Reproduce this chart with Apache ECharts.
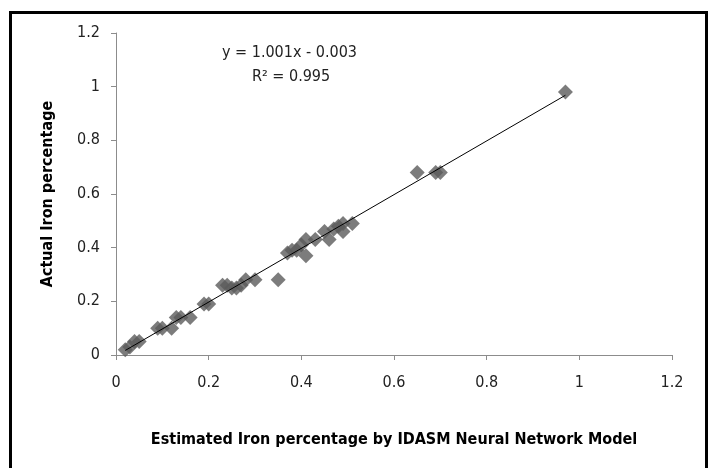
<!DOCTYPE html>
<html>
<head>
    <meta charset="utf-8">
    <script src="https://cdn.jsdelivr.net/npm/echarts@6/dist/echarts.min.js"></script>
    <style>
        body { margin: 0; background: #fff; }
        #frame {
            position: absolute;
            left: 9px;
            top: 11px;
            width: 693px;
            height: 470px;
            border: 3px solid #000;
        }
        #chart {
            position: absolute;
            left: 0;
            top: 0;
            width: 711px;
            height: 468px;
        }
    </style>
</head>
<body>
<div id="frame"></div>
<div id="chart"></div>
<script>
    // estimated (x) vs actual (y) iron percentage
    const estimated = [0.02, 0.03, 0.04, 0.05, 0.09, 0.10, 0.12, 0.13, 0.14, 0.16, 0.19, 0.20,
        0.23, 0.24, 0.25, 0.26, 0.27, 0.28, 0.30, 0.35, 0.37, 0.38, 0.39, 0.40, 0.41, 0.41,
        0.43, 0.45, 0.46, 0.47, 0.48, 0.49, 0.49, 0.51, 0.65, 0.69, 0.70, 0.97]
    const actual = [0.02, 0.03, 0.05, 0.05, 0.10, 0.10, 0.10, 0.14, 0.14, 0.14, 0.19, 0.19,
        0.26, 0.26, 0.25, 0.25, 0.26, 0.28, 0.28, 0.28, 0.38, 0.39, 0.39, 0.41, 0.43, 0.37,
        0.43, 0.46, 0.43, 0.47, 0.48, 0.49, 0.46, 0.49, 0.68, 0.68, 0.68, 0.98]
    const slope = 1.001
    const intercept = -0.003
    const r2 = 0.995
    const xTicks = [0, 0.2, 0.4, 0.6, 0.8, 1, 1.2]
    const yTicks = [0, 0.2, 0.4, 0.6, 0.8, 1, 1.2]

    const font = "'Liberation Sans Narrow', 'DejaVu Sans Condensed', sans-serif"
    const points = estimated.map((x, i) => [x, actual[i]])
    const xMin = Math.min(...estimated)
    const xMax = Math.max(...estimated)
    const trend = [[xMin, slope * xMin + intercept], [xMax, slope * xMax + intercept]]

    const chart = echarts.init(document.getElementById('chart'))
    const axisCommon = {
        type: 'value',
        min: 0,
        max: 1.2,
        interval: 0.2,
        splitLine: { show: false },
        axisLine: { show: true, lineStyle: { color: '#8c8c8c', width: 1 } },
        axisTick: { show: true, length: 5, lineStyle: { color: '#8c8c8c' } },
        nameTextStyle: { fontFamily: font, fontWeight: 'bold', fontSize: 16, color: '#000' }
    }
    chart.setOption({
        animation: false,
        textStyle: { fontFamily: font },
        grid: { left: 116, right: 39, top: 33, bottom: 113 },
        xAxis: Object.assign({}, axisCommon, {
            name: 'Estimated Iron percentage by IDASM Neural Network Model',
            nameLocation: 'middle',
            nameGap: 77,
            axisLabel: {
                fontSize: 16, color: '#222', margin: 20, fontFamily: font,
                formatter: v => xTicks.includes(+v.toFixed(1)) ? String(+v.toFixed(1)) : ''
            }
        }),
        yAxis: Object.assign({}, axisCommon, {
            name: 'Actual Iron percentage',
            nameLocation: 'middle',
            nameGap: 60,
            nameTextStyle: {
                fontFamily: font, fontWeight: 'bold', fontSize: 16, color: '#000',
                padding: [0, 0, 0, 0]
            },
            axisLabel: {
                fontSize: 16, color: '#222', margin: 16, fontFamily: font,
                formatter: v => yTicks.includes(+v.toFixed(1)) ? String(+v.toFixed(1)) : ''
            }
        }),
        graphic: [{
            type: 'text',
            left: 222,
            top: 45,
            style: {
                text: 'y = ' + slope.toFixed(3) + 'x - ' + Math.abs(intercept).toFixed(3),
                font: '16px ' + font,
                fill: '#222'
            }
        }, {
            type: 'text',
            left: 252,
            top: 69,
            style: {
                text: 'R² = ' + r2.toFixed(3),
                font: '16px ' + font,
                fill: '#222'
            }
        }],
        series: [{
            type: 'scatter',
            data: points,
            symbol: 'diamond',
            symbolSize: 15,
            itemStyle: { color: '#5b5b5b' },
            z: 2
        }, {
            type: 'line',
            data: trend,
            symbol: 'none',
            lineStyle: { color: '#000', width: 1 },
            z: 3
        }]
    })
</script>
</body>
</html>
